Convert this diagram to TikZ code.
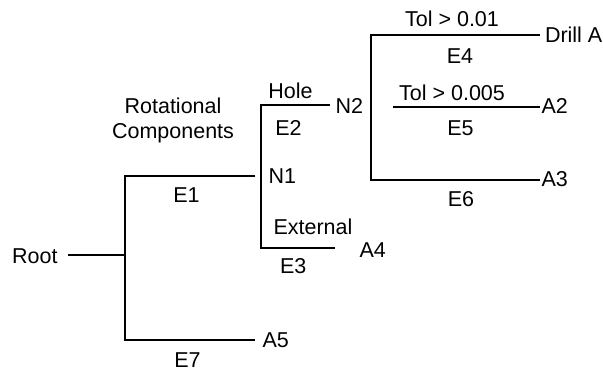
\documentclass[tikz,border=0pt]{standalone}
\usepackage{fontspec}
\setmainfont{Liberation Sans}
\begin{document}
\begin{tikzpicture}[x=1pt,y=-1pt,
  every node/.style={inner sep=0pt, outer sep=0pt, font=\fontsize{21.5}{25}\selectfont},
  lbl/.style={anchor=base},
  nd/.style={anchor=base west},
  edge/.style={line width=2.2pt, line join=miter}]
\useasboundingbox (0,0) rectangle (603,372);
% nodes
\node[anchor=base east] (root) at (57.5,263) {Root};
\node[nd] (n1) at (268.5,183) {N1};
\node[nd] (n2) at (335.5,113) {N2};
\node[nd] (drill) at (545,42) {Drill A};
\node[nd] (a2) at (541.5,113) {A2};
\node[nd] (a3) at (541.5,186) {A3};
\node[nd] (a4) at (359.5,257) {A4};
\node[nd] (a5) at (262.5,347) {A5};
% edge labels
\node[lbl, align=center] (rot) at (173,138) {Rotational\\Components};
\node[lbl] (e1) at (186.5,202) {E1};
\node[lbl] (e7) at (187.5,367) {E7};
\node[lbl] (hole) at (290.5,98) {Hole};
\node[lbl] (e2) at (288.5,135) {E2};
\node[lbl] (ext) at (313,234) {External};
\node[lbl] (e3) at (293.3,273) {E3};
\node[lbl] (tol1) at (452,26) {Tol > 0.01};
\node[lbl] (e4) at (460,63) {E4};
\node[lbl] (tol2) at (452,100) {Tol > 0.005};
\node[lbl] (e5) at (460.5,135) {E5};
\node[lbl] (e6) at (461,206) {E6};
% junction coordinates
\coordinate (r0) at (68,255);
\coordinate (j0mid) at (125,255);
\coordinate (j0top) at (125,176);
\coordinate (j0bot) at (125,340);
\coordinate (e1end) at (255,176);
\coordinate (e7end) at (255,340);
\coordinate (n1top) at (261,105);
\coordinate (n1bot) at (261,248);
\coordinate (holeend) at (330,105);
\coordinate (e3end) at (335,248);
\coordinate (n2top) at (371,35);
\coordinate (n2bot) at (371,180);
\coordinate (e4end) at (540,35);
\coordinate (e6end) at (540,180);
\coordinate (e5start) at (393,107);
\coordinate (e5end) at (540,107);
% connectors
\draw[edge] (r0) -- (j0mid);
\draw[edge] (e1end) -- (j0top) -- (j0bot) -- (e7end);
\draw[edge] (holeend) -- (n1top) -- (n1bot) -- (e3end);
\draw[edge] (e4end) -- (n2top) -- (n2bot) -- (e6end);
\draw[edge] (e5start) -- (e5end);
\end{tikzpicture}
\end{document}
